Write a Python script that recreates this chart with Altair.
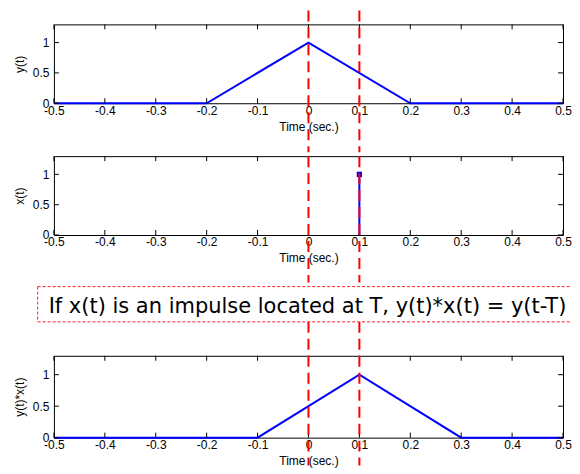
import altair as alt
import pandas as pd

# ---- data ----
y_t = [-0.5, -0.2, 0.0, 0.2, 0.5]
y_v = [0, 0, 1, 0, 0]
imp_t = [0.1]
imp_v = [1.0]
conv_t = [-0.5, -0.1, 0.1, 0.3, 0.5]
conv_v = [0, 0, 1, 0, 0]
shift_t = [0.0, 0.1]
x_ticks = [-0.5, -0.4, -0.3, -0.2, -0.1, 0.0, 0.1, 0.2, 0.3, 0.4, 0.5]
y_ticks = [0, 0.5, 1]
x_title = "Time (sec.)"
y_titles = ["y(t)", "x(t)", "y(t)*x(t)"]
note = "If x(t) is an impulse located at T, y(t)*x(t) = y(t-T)"

W = 510
H1, H2, H3 = 79, 79, 82

xscale = alt.Scale(domain=[-0.5, 0.5], nice=False, zero=False)
yscale = alt.Scale(domain=[0, 1.3], nice=False, zero=False)

x_label_expr = "datum.value < 0 ? '-' + format(-datum.value, '~g') : format(datum.value, '~g')"
BLUE = "#0000ff"


def xaxis():
    return alt.Axis(values=x_ticks, labelExpr=x_label_expr, title=x_title,
                    labelFlush=False, labelOverlap=False)


def yaxis(title):
    return alt.Axis(values=y_ticks, labelExpr="format(datum.value, '~g')", title=title,
                    labelOverlap=False)


def X(field):
    return alt.X(field, type="quantitative", scale=xscale, axis=xaxis())


def Y(field, title):
    return alt.Y(field, type="quantitative", scale=yscale, axis=yaxis(title))


def frame_ticks(h, title):
    xt = alt.Chart(pd.DataFrame({"tk": x_ticks}))
    yt = alt.Chart(pd.DataFrame({"tk": y_ticks}))
    return [
        xt.mark_rule(color="black", strokeWidth=1).encode(x=X("tk"), y=alt.value(h), y2=alt.value(h - 5)),
        xt.mark_rule(color="black", strokeWidth=1).encode(x=X("tk"), y=alt.value(0), y2=alt.value(5)),
        yt.mark_rule(color="black", strokeWidth=1).encode(y=Y("tk", title), x=alt.value(0), x2=alt.value(5)),
        yt.mark_rule(color="black", strokeWidth=1).encode(y=Y("tk", title), x=alt.value(W - 5), x2=alt.value(W)),
    ]


def shift_rules(top, bottom):
    return alt.Chart(pd.DataFrame({"s": shift_t})).mark_rule(
        color="#ff0000", strokeWidth=2, strokeDash=[11, 6], clip=False
    ).encode(x=X("s"), y=alt.value(top), y2=alt.value(bottom))


# ---- panel 1: y(t) ----
df1 = pd.DataFrame({"t": y_t, "v": y_v})
line1 = alt.Chart(df1).mark_line(color=BLUE, strokeWidth=2).encode(x=X("t"), y=Y("v", y_titles[0]))
p1 = alt.layer(line1, *frame_ticks(H1, y_titles[0]), shift_rules(-14, 128)).properties(width=W, height=H1)

# ---- panel 2: x(t) ----
df2 = pd.DataFrame({"t": imp_t, "v": imp_v})
stem = alt.Chart(df2).mark_rule(color=BLUE, strokeWidth=2).encode(
    x=X("t"), y=Y("v", y_titles[1]), y2=alt.datum(0)
)
head = alt.Chart(df2).mark_point(shape="square", filled=True, size=28, color=BLUE, opacity=1).encode(
    x=X("t"), y=Y("v", y_titles[1])
)
p2 = alt.layer(stem, head, *frame_ticks(H2, y_titles[1]), shift_rules(0, 126.7)).properties(width=W, height=H2)

# ---- panel 3: y(t)*x(t) ----
df3 = pd.DataFrame({"t": conv_t, "v": conv_v})
line3 = alt.Chart(df3).mark_line(color=BLUE, strokeWidth=2).encode(x=X("t"), y=Y("v", y_titles[2]))
BT, BB, BL = -69.3, -34.0, -16.3
one = pd.DataFrame({"note": [note]})
box = alt.Chart(one).mark_rect(color="white", opacity=1).encode(
    x=alt.value(-45), x2=alt.value(518), y=alt.value(BT - 0.5), y2=alt.value(BB)
)
bstyle = dict(color="#ff2020", strokeWidth=1, strokeDash=[3, 2], clip=False)
b_top = alt.Chart(one).mark_rule(**bstyle).encode(x=alt.value(BL), x2=alt.value(517), y=alt.value(BT))
b_bot = alt.Chart(one).mark_rule(**bstyle).encode(x=alt.value(BL), x2=alt.value(517), y=alt.value(BB))
b_left = alt.Chart(one).mark_rule(**bstyle).encode(x=alt.value(BL), y=alt.value(BT), y2=alt.value(BB))
txt = alt.Chart(one).mark_text(
    align="left", baseline="alphabetic", fontSize=21, font="DejaVu Sans", color="black"
).encode(x=alt.value(-5.3), y=alt.value(-42.7), text="note:N")

p3 = alt.layer(
    line3, *frame_ticks(H3, y_titles[2]), shift_rules(BB, 110), box, b_top, b_bot, b_left, txt
).properties(width=W, height=H3)

chart = (
    alt.vconcat(p1, p2, p3, spacing=0)
    .properties(padding={"left": 0, "top": 0, "right": 0, "bottom": 0},
                autosize=alt.AutoSizeParams(type="pad"))
    .configure_view(stroke="black", strokeWidth=1)
    .configure_axis(
        labelFont="Liberation Sans", labelFontSize=12, labelColor="black",
        titleFont="Liberation Sans", titleFontSize=12, titleFontWeight="normal", titleColor="black",
        ticks=False, domain=False, grid=False,
    )
    .configure_axisX(labelPadding=2, titlePadding=5)
    .configure_axisY(labelPadding=5, titlePadding=6)
)

chart.save("out.html", embed_options={"renderer": "svg", "actions": False})
